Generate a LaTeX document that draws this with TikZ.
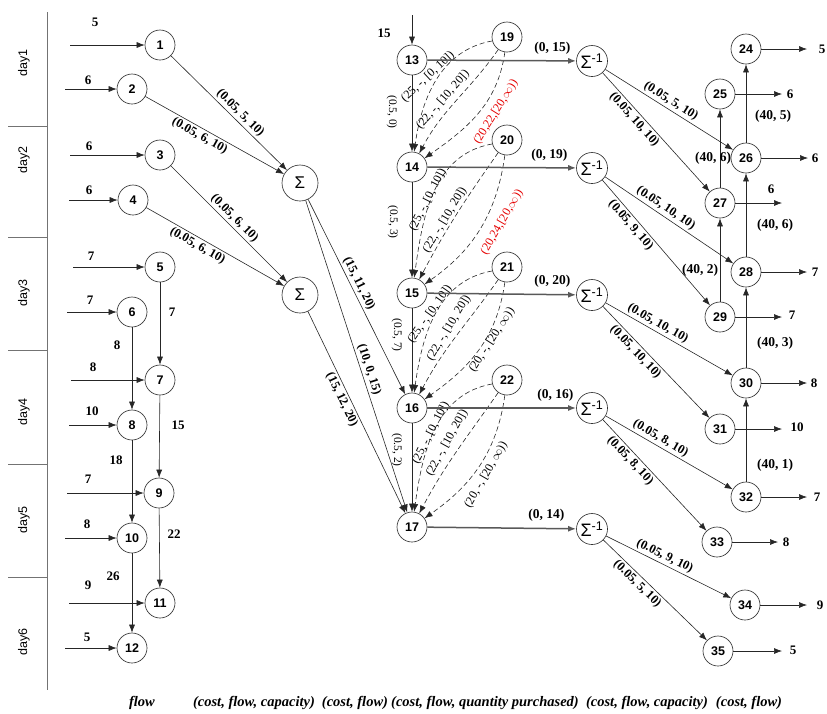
\documentclass[tikz,border=0pt]{standalone}
\usepackage{fontspec}
\setmainfont{Liberation Serif}
\newfontfamily\arialf{Liberation Sans}
\usetikzlibrary{arrows.meta}
\begin{document}
\begin{tikzpicture}[x=1pt,y=1pt,
  nd/.style={circle,draw=black!80,line width=0.65pt,minimum size=30pt,inner sep=0pt,font=\arialf\bfseries\fontsize{12.5}{13}\selectfont},
  sg/.style={circle,draw=black!80,line width=0.65pt,minimum size=36pt,inner sep=0pt,font=\arialf\fontsize{17}{17}\selectfont},
  si/.style={circle,draw=black!80,line width=0.65pt,minimum size=31pt,inner sep=0pt,font=\arialf\fontsize{18}{18}\selectfont},
  ar/.style={-{Latex[length=8pt,width=6pt]},line width=0.6pt,draw=black!85},
  da/.style={ar,dash pattern=on 5pt off 3pt},
  hl/.style={-{Latex[length=8pt,width=6pt]},line width=1.5pt,draw=black!65},
  lb/.style={font=\bfseries\fontsize{12.5}{13}\selectfont,inner sep=2pt},
  dl/.style={font=\fontsize{12}{12}\selectfont,inner sep=0pt},
  redl/.style={dl,text=red!90!black},
  vl/.style={font=\fontsize{11.5}{12}\selectfont,rotate=-90,inner sep=0pt},
  nl/.style={font=\bfseries\fontsize{13}{13}\selectfont,inner sep=0pt},
  hlab/.style={font=\bfseries\fontsize{13.5}{14}\selectfont,inner sep=0pt},
  dayl/.style={font=\arialf\fontsize{12.5}{13}\selectfont,rotate=90,inner sep=0pt},
  lg/.style={font=\bfseries\itshape\fontsize{14.5}{15}\selectfont,inner sep=0pt},
  axl/.style={draw=black!55,line width=1pt}
]
\useasboundingbox (0,0) rectangle (827,-713);

% ---- day axis
\draw[axl] (47,-12) -- (47,-690);
\foreach \yy in {126,237,350,464,577} \draw[axl] (8,-\yy) -- (47,-\yy);
\node[dayl] (d1) at (24,-63) {day1};
\node[dayl] (d2) at (24,-160) {day2};
\node[dayl] (d3) at (24,-293) {day3};
\node[dayl] (d4) at (24,-412) {day4};
\node[dayl] (d5) at (24,-520) {day5};
\node[dayl] (d6) at (24,-642) {day6};

% ---- left nodes with inputs
\foreach \i/\x/\y/\sx/\lx/\ly/\v in {
  1/160/45/70/95/22/5, 2/132/89/65/88/80/6, 3/160/155/70/89/146/6, 4/133/200/69/89/190/6,
  5/160/267/73/91/256/7, 6/132/312/67/90/300/7, 7/160/380/71/93/367/8, 8/132/425/69/92/411/10,
  9/159/493/67/88/479/7, 10/132/538/65/87/524/8, 11/160/603/69/88/585/9, 12/132/648/65/87/637/5}{
  \node[nd] (n\i) at (\x,-\y) {\i};
  \coordinate (in\i) at (\sx,-\y);
  \draw[ar] (in\i) -- (n\i);
  \node[nl] (il\i) at (\lx,-\ly) {\v};
}
\draw[ar] (n5) -- (n7);
\draw[ar] (n6) -- (n8);
\draw[ar] (n7) -- (n9);
\draw[ar] (n8) -- (n10);
\draw[ar] (n9) -- (n11);
\draw[ar] (n10) -- (n12);
\node[nl] (v57) at (172,-312) {7};
\node[nl] (v68) at (117,-345) {8};
\node[nl] (v79) at (178,-425) {15};
\node[nl] (v810) at (116,-460) {18};
\node[nl] (v911) at (174,-534) {22};
\node[nl] (v1012) at (113,-576) {26};

% ---- sigma nodes
\node[sg] (s1) at (300,-183) {Σ};
\node[sg] (s2) at (300,-295) {Σ};
\draw[ar] (n1) -- node[lb,sloped,above,pos=0.55] {(0.05, 5, 10)} (s1);
\draw[ar] (n2) -- node[lb,sloped,below,pos=0.42] {(0.05, 6, 10)} (s1);
\draw[ar] (n3) -- node[lb,sloped,above,pos=0.5] {(0.05, 6, 10)} (s2);
\draw[ar] (n4) -- node[lb,sloped,below,pos=0.4] {(0.05, 6, 10)} (s2);

% ---- middle column
\node[nd] (n13) at (412,-60) {13};
\node[nd] (n14) at (412,-167) {14};
\node[nd] (n15) at (412,-293) {15};
\node[nd] (n16) at (412,-408) {16};
\node[nd] (n17) at (412,-527) {17};
\node[nd] (n19) at (507,-37) {19};
\node[nd] (n20) at (507,-140) {20};
\node[nd] (n21) at (507,-267) {21};
\node[nd] (n22) at (507,-380) {22};
\coordinate (in13) at (412,-15);
\draw[ar] (in13) -- (n13);
\node[nl] (il13) at (384,-33) {15};

\draw[ar] (s1) -- node[lb,sloped,above,pos=0.45] {(15, 11, 20)} (n16);
\draw[ar] (s1) -- node[lb,sloped,above,pos=0.55] {(10, 0, 15)} (n17);
\draw[ar] (s2) -- node[lb,sloped,below,pos=0.42] {(15, 12, 20)} (n17);

\draw[ar] (n13) -- (n14);
\draw[ar] (n14) -- (n15);
\draw[ar] (n15) -- (n16);
\draw[ar] (n16) -- (n17);
\node[vl] (c1314) at (392,-112) {(0.5, 0)};
\node[vl] (c1415) at (393,-222) {(0.5, 3)};
\node[vl] (c1516) at (397,-335) {(0.5, 7)};
\node[vl] (c1617) at (397,-450) {(0.5, 2)};

% ---- dashed purchase arcs
\foreach \s/\t in {19/14,20/15,21/16,22/17}{
  \draw[da] (n\s.195) to[out=190,in=82] (n\t.82);
  \draw[da] (n\s.235) to[out=235,in=62] (n\t.62);
  \draw[da] (n\s.262) to[out=262,in=35] (n\t.35);
}
\node[dl,rotate=43] (q1a) at (428,-77) {(25, -, [0, 10])};
\node[dl,rotate=49] (q1b) at (443,-100) {(22, -, [10, 20])};
\node[redl,rotate=58] (q1c) at (496,-112) {(20,22,[20,$\infty$))};
\node[dl,rotate=63] (q2a) at (428,-200) {(25, -, [0, 10])};
\node[dl,rotate=59] (q2b) at (445,-220) {(22, -, [10, 20])};
\node[redl,rotate=60] (q2c) at (502,-222) {(20,24,[20,$\infty$))};
\node[dl,rotate=55] (q3a) at (430,-314) {(25, -, [0, 10])};
\node[dl,rotate=59] (q3b) at (449,-328) {(22, -, [10, 20])};
\node[dl,rotate=57] (q3c) at (492,-340) {(20, -, [20, $\infty$))};
\node[dl,rotate=63] (q4a) at (431,-433) {(25, -, [0, 10])};
\node[dl,rotate=61] (q4b) at (447,-443) {(22, -, [10, 20])};
\node[dl,rotate=60] (q4c) at (486,-475) {(20, -, [20, $\infty$))};

% ---- sigma inverse
\node[si] (t1) at (592,-61) {Σ\textsuperscript{-1}};
\node[si] (t2) at (592,-168) {Σ\textsuperscript{-1}};
\node[si] (t3) at (592,-295) {Σ\textsuperscript{-1}};
\node[si] (t4) at (592,-408) {Σ\textsuperscript{-1}};
\node[si] (t5) at (592,-529) {Σ\textsuperscript{-1}};
\draw[hl] (n13) -- node[hlab,above=6pt,pos=0.84] {(0, 15)} (t1);
\draw[hl] (n14) -- node[hlab,above=6pt,pos=0.82] {(0, 19)} (t2);
\draw[hl] (n15) -- node[hlab,above=6pt,pos=0.84] {(0, 20)} (t3);
\draw[hl] (n16) -- node[hlab,above=6pt,pos=0.86] {(0, 16)} (t4);
\draw[hl] (n17) -- node[hlab,above=6pt,pos=0.80] {(0, 14)} (t5);

% ---- right nodes
\node[nd] (n24) at (746,-49) {24};
\node[nd] (n25) at (720,-94) {25};
\node[nd] (n26) at (746,-158) {26};
\node[nd] (n27) at (720,-203) {27};
\node[nd] (n28) at (746,-272) {28};
\node[nd] (n29) at (720,-317) {29};
\node[nd] (n30) at (746,-383) {30};
\node[nd] (n31) at (720,-429) {31};
\node[nd] (n32) at (746,-497) {32};
\node[nd] (n33) at (717,-542) {33};
\node[nd] (n34) at (745,-605) {34};
\node[nd] (n35) at (718,-651) {35};

\draw[ar] (t1) -- node[lb,sloped,above,pos=0.48] {(0.05, 5, 10)} (n26);
\draw[ar] (t1) -- node[lb,sloped,below,pos=0.35] {(0.05, 10, 10)} (n27);
\draw[ar] (t2) -- node[lb,sloped,above,pos=0.44] {(0.05, 10, 10)} (n28);
\draw[ar] (t2) -- node[lb,sloped,below,pos=0.32] {(0.05, 9, 10)} (n29);
\draw[ar] (t3) -- node[lb,sloped,above,pos=0.38] {(0.05, 10, 10)} (n30);
\draw[ar] (t3) -- node[lb,sloped,below,pos=0.36] {(0.05, 10, 10)} (n31);
\draw[ar] (t4) -- node[lb,sloped,above,pos=0.4] {(0.05, 8, 10)} (n32);
\draw[ar] (t4) -- node[lb,sloped,below,pos=0.32] {(0.05, 8, 10)} (n33);
\draw[ar] (t5) -- node[lb,sloped,above,pos=0.44] {(0.05, 9, 10)} (n34);
\draw[ar] (t5) -- node[lb,sloped,below,pos=0.38] {(0.05, 5, 10)} (n35);

\draw[ar] (n26) -- (n24);
\draw[ar] (n27) -- (n25);
\draw[ar] (n28) -- (n26);
\draw[ar] (n29) -- (n27);
\draw[ar] (n30) -- (n28);
\draw[ar] (n32) -- (n30);
\node[hlab] (r1) at (773,-116) {(40, 5)};
\node[hlab] (r2) at (713,-158) {(40, 6)};
\node[hlab] (r3) at (775,-225) {(40, 6)};
\node[hlab] (r4) at (700,-270) {(40, 2)};
\node[hlab] (r5) at (775,-343) {(40, 3)};
\node[hlab] (r6) at (775,-465) {(40, 1)};

% ---- outputs
\foreach \i/\ex/\lx/\ly/\v in {24/807/822/49/5, 25/782/790/94/6, 26/808/815/158/6, 27/782/771/189/6,
  28/807/815/272/7, 29/782/792/315/7, 30/807/814/383/8, 31/782/797/427/10,
  32/807/817/497/7, 33/778/786/542/8, 34/807/820/605/9, 35/782/793/650/5}{
  \coordinate (o\i) at (\ex,0 |- n\i);
  \draw[ar] (n\i) -- (o\i);
  \node[nl] (ol\i) at (\lx,-\ly) {\v};
}

% ---- legend
\node[lg] (g1) at (142,-703) {flow};
\node[lg] (g2) at (254,-703) {(cost, flow, capacity)};
\node[lg] (g3) at (355,-703) {(cost, flow)};
\node[lg] (g4) at (485,-703) {(cost, flow, quantity purchased)};
\node[lg] (g5) at (647,-703) {(cost, flow, capacity)};
\node[lg] (g6) at (749,-703) {(cost, flow)};
\end{tikzpicture}
\end{document}
